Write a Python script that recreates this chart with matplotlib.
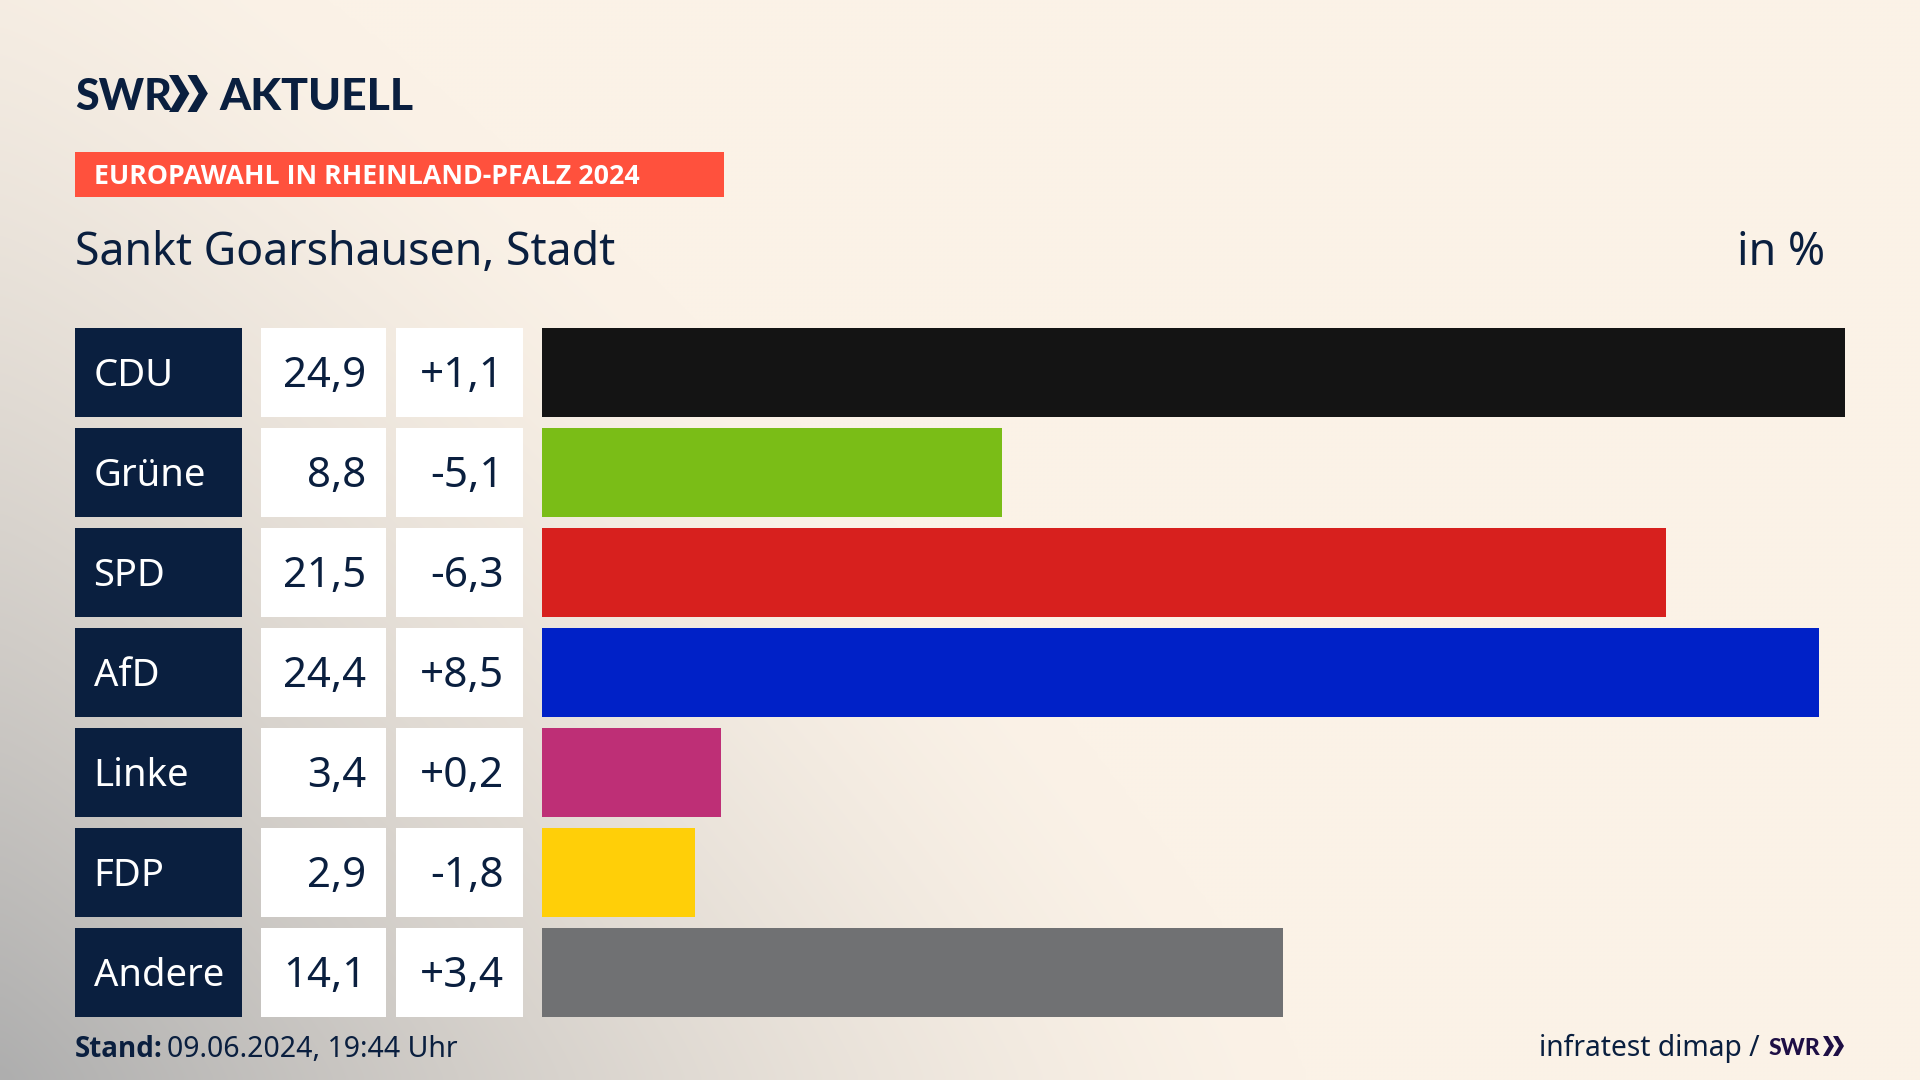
import numpy as np
from matplotlib import pyplot as plt
from matplotlib.patches import Polygon, Rectangle

parties = ['CDU', 'Grüne', 'SPD', 'AfD', 'Linke', 'FDP', 'Andere']
share_labels = ['24,9', '8,8', '21,5', '24,4', '3,4', '2,9', '14,1']
# bars are drawn from the unrounded results
shares = [24.9, 8.8, 21.47, 24.4, 3.42, 2.93, 14.16]
changes = ['+1,1', '-5,1', '-6,3', '+8,5', '+0,2', '-1,8', '+3,4']
colors = ['#141414', '#7ABD17', '#D7201E', '#0021C7', '#BE2F76', '#FFCF08', '#707173']

NAVY = '#0A1F3F'
W, H = 1920, 1080

plt.rcParams['font.family'] = ['Noto Sans', 'DejaVu Sans']


def px_axes(fig, x0, x1, y0=322.5, y1=1022.5):
    ax = fig.add_axes([x0 / W, 1 - y1 / H, (x1 - x0) / W, (y1 - y0) / H])
    ax.set_ylim(6.5, -0.5)
    ax.axis('off')
    return ax


def chevrons(ax, x, y, h, color):
    # the two arrows of the SWR logo
    w = h * 0.55
    for dx in (0, h * 0.5):
        pts = [(x + dx, y), (x + dx + h * 0.25, y), (x + dx + w, y + h / 2),
               (x + dx + h * 0.25, y + h), (x + dx, y + h), (x + dx + w - h * 0.25, y + h / 2)]
        ax.add_patch(Polygon(pts, closed=True, color=color, lw=0))


fig = plt.figure(figsize=(19.2, 10.8), dpi=100)

# background, cream with grey coming in from the lower left corner
bg = fig.add_axes([0, 0, 1, 1])
yy, xx = np.mgrid[0:H:270j, 0:W:480j]
d = ((xx / 1300) ** 1.2 + ((H - yy) / 1280) ** 1.2) ** (1 / 1.2)
t = np.clip(1 - d, 0, 1) ** 1.4
cream = np.array([251, 242, 231]) / 255
grey = np.array([174, 174, 174]) / 255
img = cream + (grey - cream) * t[..., None]
bg.imshow(img, extent=[0, W, H, 0], aspect='auto', interpolation='bicubic')
bg.set_xlim(0, W)
bg.set_ylim(H, 0)
bg.axis('off')

# header
bg.text(75, 110, 'SWR', fontsize=31, fontweight='black', color=NAVY, family='Lato', va='baseline')
chevrons(bg, 169, 75, 37, NAVY)
bg.text(219, 110, 'AKTUELL', fontsize=32, fontweight='black', color=NAVY, family='Lato', va='baseline')
bg.add_patch(Rectangle((75, 152), 649, 45, color='#FF513D', lw=0))
bg.text(94, 184, 'EUROPAWAHL IN RHEINLAND-PFALZ 2024', fontsize=19.3, fontweight='bold',
        color='white', family='Open Sans', va='baseline')
bg.text(75, 265, 'Sankt Goarshausen, Stadt', fontsize=32.2, color=NAVY, va='baseline')
bg.text(1825, 265, 'in %', fontsize=32.2, color=NAVY, va='baseline', ha='right')

rows = np.arange(len(parties))

# party labels
ax = px_axes(fig, 75, 242)
ax.barh(rows, 1, height=0.89, color=NAVY)
ax.set_xlim(0, 1)
for y, name in zip(rows, parties):
    ax.text(18.5 / 167, y - 0.012, name, fontsize=27.5, color='white', va='center_baseline')

# result column
ax = px_axes(fig, 261, 386)
ax.barh(rows, 1, height=0.89, color='white')
ax.set_xlim(0, 1)
for y, v in zip(rows, share_labels):
    ax.text(105.5 / 125, y - 0.012, v, fontsize=30.2, color=NAVY, ha='right', va='center_baseline')

# change column
ax = px_axes(fig, 396, 523)
ax.barh(rows, 1, height=0.89, color='white')
ax.set_xlim(0, 1)
for y, c in zip(rows, changes):
    ax.text(108 / 127, y - 0.012, c, fontsize=30.5, color=NAVY, ha='right', va='center_baseline')

# bars
ax = px_axes(fig, 542, 1845)
ax.barh(rows, shares, height=0.89, color=colors)
ax.set_xlim(0, max(shares))

# footer
bg.text(75, 1057, 'Stand:', fontsize=20, fontweight='bold', color=NAVY, family='Open Sans', va='baseline')
bg.text(167, 1057, '09.06.2024, 19:44 Uhr', fontsize=20.5, color=NAVY, va='baseline')
bg.text(1760, 1056, 'infratest dimap /', fontsize=20.3, color=NAVY, va='baseline', ha='right')
bg.text(1769, 1055, 'SWR', fontsize=16.5, fontweight='black', color='#1E0F45', family='Lato', va='baseline')
chevrons(bg, 1823, 1036, 20, '#1E0F45')

fig.savefig('out.png', dpi=100)
